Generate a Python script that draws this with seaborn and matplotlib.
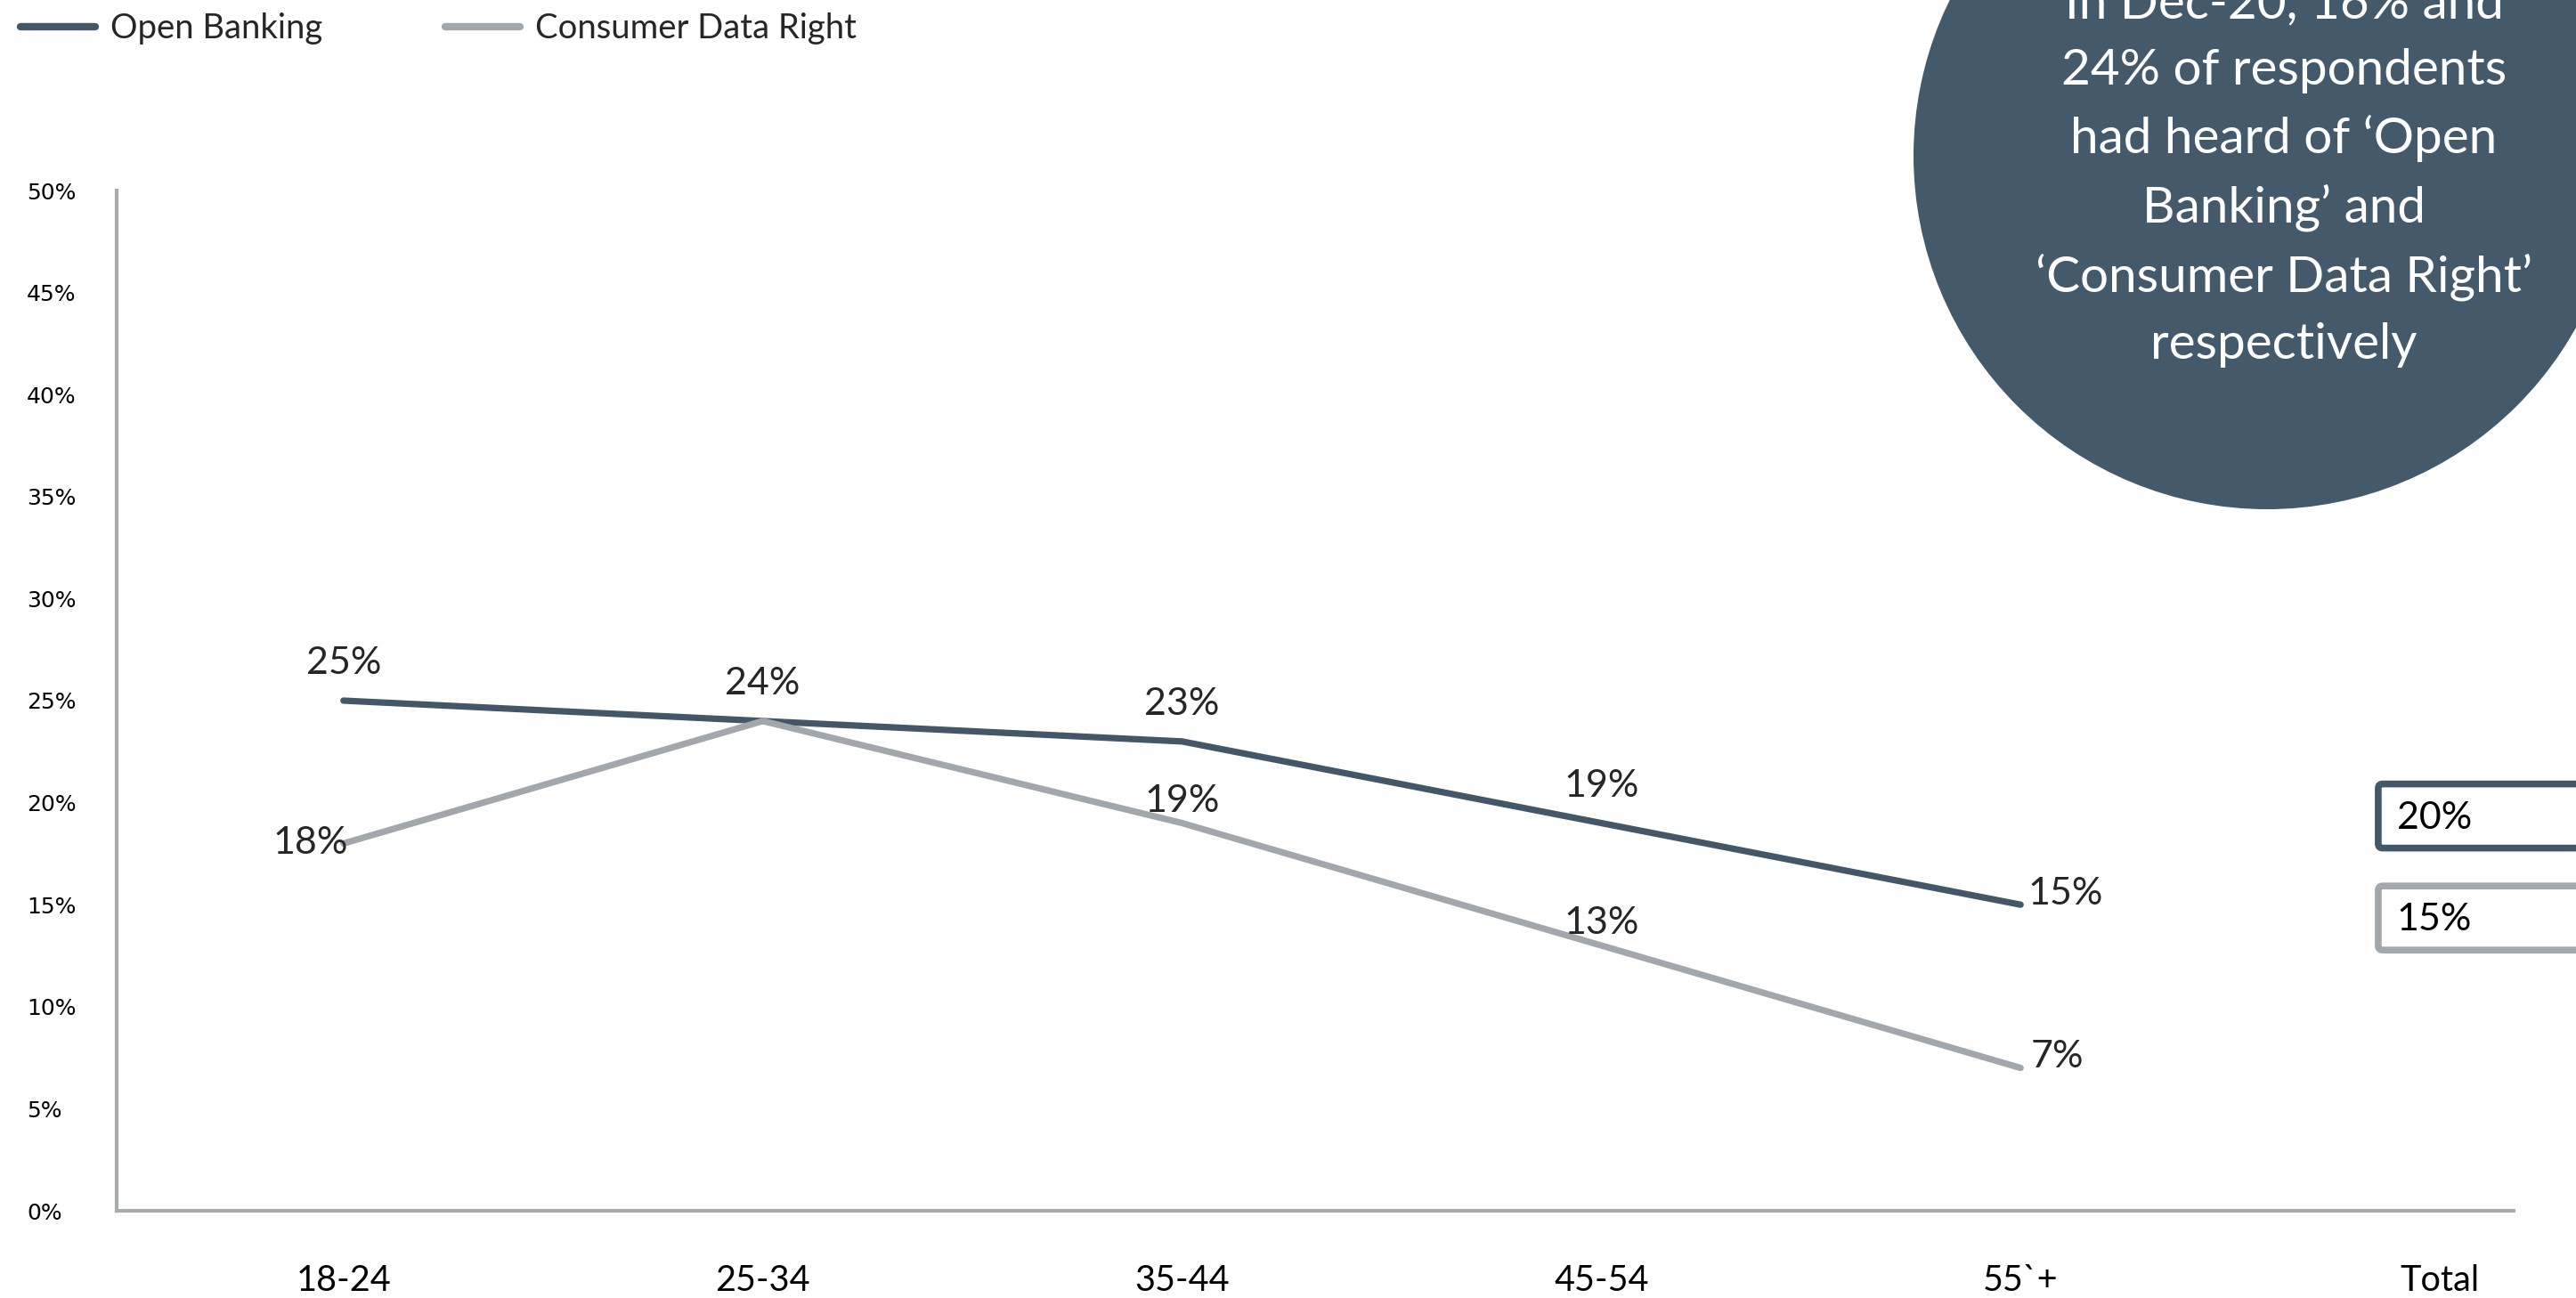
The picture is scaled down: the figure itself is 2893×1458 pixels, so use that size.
import numpy as np
import pandas as pd
import matplotlib
matplotlib.use("Agg")
import matplotlib.pyplot as plt
import seaborn as sns
from matplotlib.patches import Circle, FancyBboxPatch
from matplotlib.transforms import IdentityTransform

# ---- data -------------------------------------------------------------
age_groups = ["18-24", "25-34", "35-44", "45-54", "55`+"]
open_banking = [25, 24, 23, 19, 15]
consumer_data_right = [18, 24, 19, 13, 7]
total_label = "Total"
total_open_banking = 20
total_consumer_data_right = 15
series_names = ["Open Banking", "Consumer Data Right"]
y_ticks = [0, 5, 10, 15, 20, 25, 30, 35, 40, 45, 50]
callout_text = ("In Dec-20, 16% and\n24% of respondents\nhad heard of \u2018Open\n"
                "Banking\u2019 and\n\u2018Consumer Data Right\u2019\nrespectively")

# ---- style ------------------------------------------------------------
OB_COLOR = "#435769"
CDR_COLOR = "#A1A7AA"
AXIS_COLOR = "#A6ABAF"
CIRCLE_COLOR = "#44596A"

sns.set_theme(style="white")
plt.rcParams["font.family"] = ["Lato", "DejaVu Sans"]

W, H, DPI = 2893, 1458, 100
fig = plt.figure(figsize=(W / DPI, H / DPI), dpi=DPI)
fig.patch.set_facecolor("white")
ax = fig.add_axes([131 / W, 98 / H, (2823 - 131) / W, (1244 - 98) / H])

n = len(age_groups)
df = pd.DataFrame({
    "pos": list(range(n)) * 2,
    "value": open_banking + consumer_data_right,
    "series": [series_names[0]] * n + [series_names[1]] * n,
})
sns.lineplot(data=df, x="pos", y="value", hue="series",
             palette=[OB_COLOR, CDR_COLOR], linewidth=5.2, ax=ax,
             sort=False)

ax.set_xlim(-0.541, n + 0.176)
ax.set_ylim(0, 50)
ax.set_xlabel("")
ax.set_ylabel("")

# axes
sns.despine(ax=ax)
for side in ("left", "bottom"):
    ax.spines[side].set_color(AXIS_COLOR)
    ax.spines[side].set_linewidth(3)
ax.set_yticks(y_ticks)
ax.set_yticklabels([f"{v}%" for v in y_ticks], fontfamily="DejaVu Sans",
                   fontsize=18, color="black")
ax.tick_params(axis="y", length=0, pad=72.7)
for lbl in ax.get_yticklabels():
    lbl.set_horizontalalignment("left")
ax.set_xticks(list(range(n + 1)))
ax.set_xticklabels(age_groups + [total_label], fontsize=28.5, color="black")
ax.tick_params(axis="x", length=0, pad=43)
ax.grid(False)

# legend across the top
sns.move_legend(ax, "upper left", bbox_to_anchor=(23 / W, 1 - 14 / H),
                bbox_transform=fig.transFigure, ncol=2, frameon=False,
                title=None, fontsize=27.5, handlelength=2.2,
                handletextpad=0.45, columnspacing=3.6, borderpad=0,
                borderaxespad=0)
for line in ax.get_legend().get_lines():
    line.set_linewidth(6)

# value labels
LABEL_SIZE = 31
for i, v in enumerate(open_banking):
    if i == n - 1:
        ax.annotate(f"{v}%", (i, v), xytext=(6, 9), textcoords="offset points",
                    ha="left", va="center", fontsize=LABEL_SIZE)
    else:
        ax.annotate(f"{v}%", (i, v), xytext=(0, 30), textcoords="offset points",
                    ha="center", va="center", fontsize=LABEL_SIZE)

for i, v in enumerate(consumer_data_right):
    if v == open_banking[i]:
        continue
    if i == 0:
        ax.annotate(f"{v}%", (i, v), xytext=(4, 0), textcoords="offset points",
                    ha="right", va="center", fontsize=LABEL_SIZE)
    elif i == n - 1:
        ax.annotate(f"{v}%", (i, v), xytext=(8, 9), textcoords="offset points",
                    ha="left", va="center", fontsize=LABEL_SIZE)
    else:
        ax.annotate(f"{v}%", (i, v), xytext=(0, 18), textcoords="offset points",
                    ha="center", va="center", fontsize=LABEL_SIZE)

# boxed totals on the right
box_left = n - 0.147
for v, col in ((total_open_banking, OB_COLOR),
               (total_consumer_data_right, CDR_COLOR)):
    x0, yc = ax.transData.transform((box_left, v))
    yc -= 15
    box = FancyBboxPatch((x0, yc - 36), 400, 72,
                         boxstyle="round,pad=0,rounding_size=5",
                         transform=IdentityTransform(), facecolor="white",
                         edgecolor=col, linewidth=5.5, zorder=3)
    fig.add_artist(box)
    fig.text((x0 + 21) / W, (yc - 2) / H, f"{v}%", ha="left", va="center",
             fontsize=LABEL_SIZE, color="black", zorder=4)

# callout bubble
fig.add_artist(Circle((2546, H - 175), 397, transform=IdentityTransform(),
                      facecolor=CIRCLE_COLOR, edgecolor="none", zorder=2))
fig.text(2565 / W, 1 - 196 / H, callout_text, ha="center", va="center",
         color="white", fontsize=40.8, linespacing=1.57, zorder=3)

fig.savefig("out.png", dpi=DPI, facecolor="white")
